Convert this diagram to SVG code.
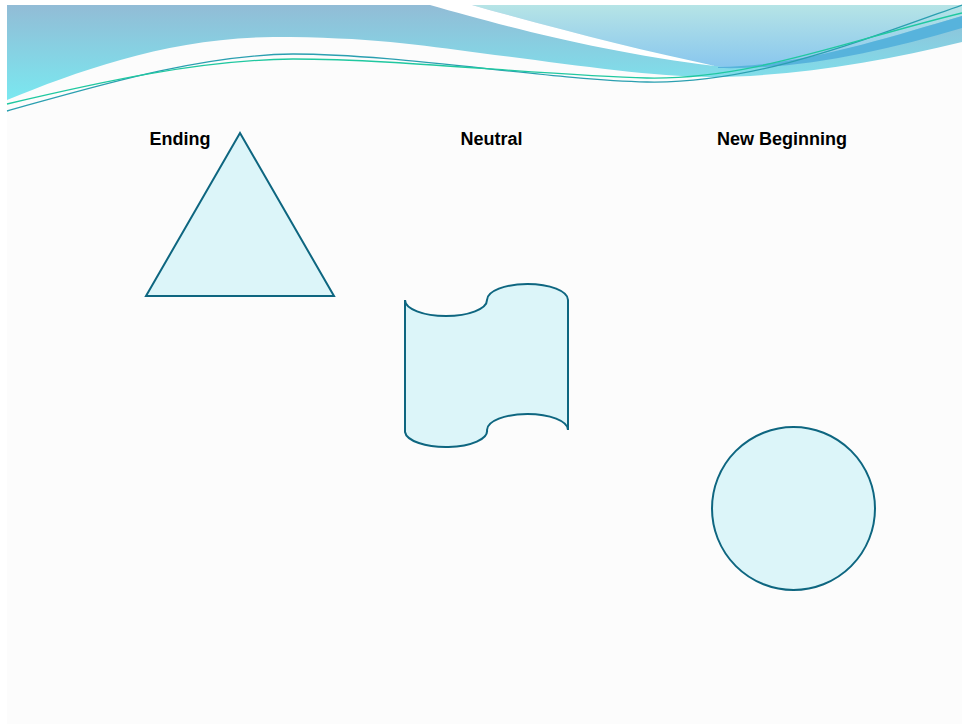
<svg xmlns="http://www.w3.org/2000/svg" width="962" height="724" viewBox="0 0 962 724">
<defs>
<linearGradient id="gBig" gradientUnits="userSpaceOnUse" x1="0" y1="5" x2="0" y2="100">
<stop offset="0" stop-color="#92bcd6"/>
<stop offset="1" stop-color="#7ae8f0"/>
</linearGradient>
<linearGradient id="gRight" gradientUnits="userSpaceOnUse" x1="0" y1="5" x2="0" y2="68">
<stop offset="0" stop-color="#b6e4e6"/>
<stop offset="1" stop-color="#88c6ee"/>
</linearGradient>
<style>
.shape{fill:#dcf5f9;stroke:#0e6680;stroke-width:2;stroke-linejoin:miter}
.lbl{font-family:"Liberation Sans",Arial,sans-serif;font-weight:bold;font-size:18px;fill:#000;text-anchor:middle}
.wl{fill:none;stroke-width:1.3}
</style>
</defs>
<rect x="0" y="0" width="962" height="724" fill="#ffffff"/>
<rect x="7" y="5" width="955" height="719" fill="#fcfcfc"/>
<g id="banner">
<path d="M7,5 H962 V42 C880,62 790,77 710,77 C650,77 560,63 480,53 C420,45 370,37 273,37 C170,38 80,70 7,100 Z" fill="url(#gBig)"/>
<path d="M472,5 H962 V16 C880,40 800,66 725,67 L715,66 C640,50 560,30 472,5 Z" fill="url(#gRight)"/>
<path d="M718,67 C800,66 880,40 962,16 V28 C880,52 800,70 718,68 Z" fill="#57b3dc"/>
<path d="M430,5 L472,5 C560,30 640,50 715,66 C600,52 500,25 430,5 Z" fill="#ffffff"/>
<path class="wl" stroke="#2a9fb0" d="M7,111 C100,85 200,55 293,54 C400,54 550,80 647,82 C750,84 850,45 962,5"/>
<path class="wl" stroke="#20c8a0" d="M7,104 C100,82 200,60 293,59 C400,59 550,76 647,78 C750,80 850,40 962,13"/>
</g>
<g id="ending">
<polygon class="shape" points="240,133 334,296 146,296"/>
<text class="lbl" x="180" y="145">Ending</text>
</g>
<g id="neutral">
<path class="shape" d="M405,300 A41,16 0 0 0 487,300 A40.5,16 0 0 1 568,300 L568,430 A40.5,16 0 0 0 487,430 A41,16 0 0 1 405,432 Z"/>
<text class="lbl" x="491.5" y="145">Neutral</text>
</g>
<g id="new-beginning">
<circle class="shape" cx="793.5" cy="508.5" r="81.5"/>
<text class="lbl" x="782" y="145">New Beginning</text>
</g>
<g id="connectors"></g>
</svg>
